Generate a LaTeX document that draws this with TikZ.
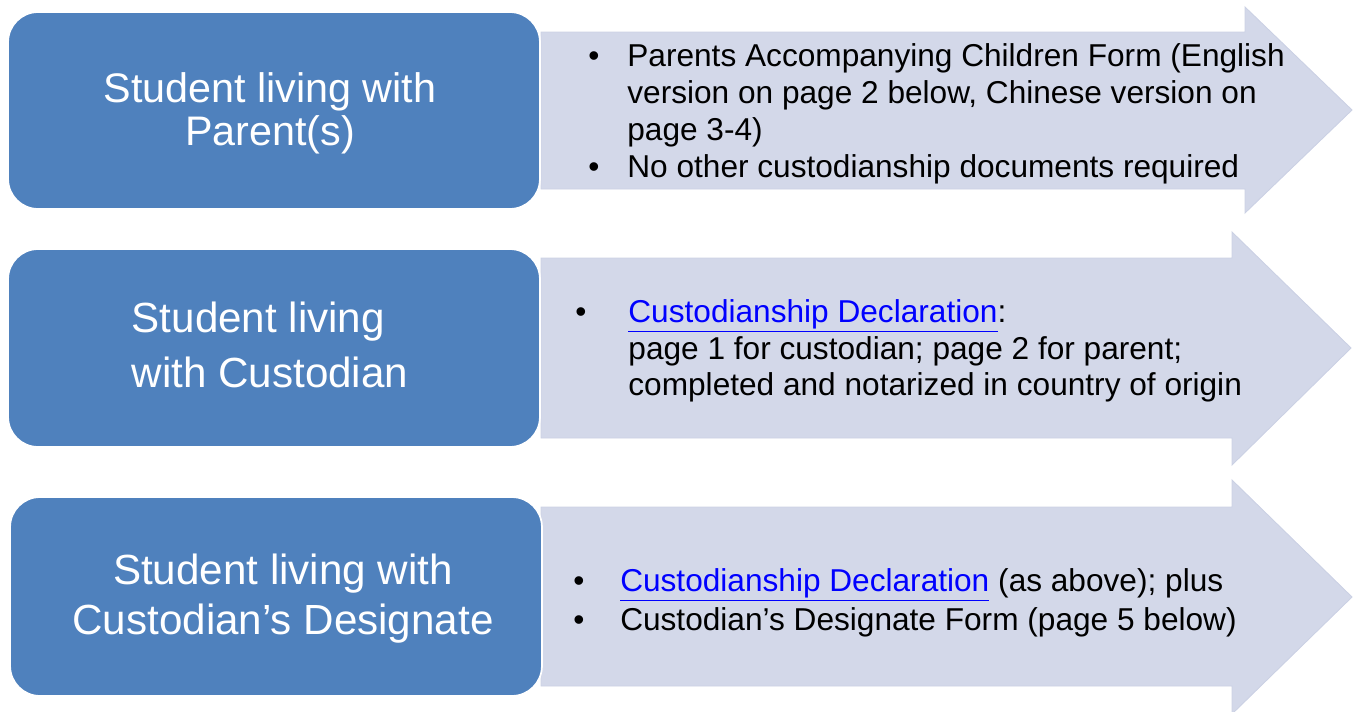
\documentclass[tikz,border=0pt]{standalone}
\usepackage{fontspec}
\setmainfont{Liberation Sans}
\definecolor{boxblue}{HTML}{4F81BD}
\definecolor{arrowfill}{HTML}{D3D8E9}
\definecolor{arrowedge}{HTML}{CBD1E4}
\definecolor{linkblue}{HTML}{0000FF}
\newcommand{\doclink}[1]{\textcolor{linkblue}{\underline{#1}}}
\newcommand{\bul}[1]{\makebox[#1][l]{\textbullet}}
\tikzset{
    stage/.style = {draw=white, line width=1pt, fill=boxblue, rounded corners=0.6cm,
        minimum width=10.64cm},
    stagetext/.style = {text=white, align=center},
    docs/.style = {anchor=west, align=left, inner sep=0pt},
    bigarrow/.style = {fill=arrowfill, draw=arrowedge, line width=0.5pt}
}

\begin{document}
\begin{tikzpicture}[x=0.02cm, y=-0.02cm]
    \clip (0,0) rectangle (1356,711);

    \draw[bigarrow] (541,32) -- (1245,32) -- (1245,7) -- (1352,110)
        -- (1245,213) -- (1245,189) -- (541,189) -- cycle;
    \draw[bigarrow] (541,258) -- (1232,258) -- (1232,232) -- (1351,348)
        -- (1232,465) -- (1232,438) -- (541,438) -- cycle;
    \draw[bigarrow] (541,507) -- (1232,507) -- (1232,480) -- (1352,597)
        -- (1232,714) -- (1232,686) -- (541,686) -- cycle;

    \node[stage, minimum height=3.94cm] (parents) at (274,110.5) {};
    \node[stagetext, font=\fontsize{23.5}{24.5}\selectfont] (parentslabel)
        at ([xshift=-0.08cm, yshift=-0.06cm]parents.center) {Student living with\\Parent(s)};
    \node[stage, minimum height=3.96cm] (custodian) at (274,348) {};
    \node[stagetext, align=left, font=\fontsize{24}{31}\selectfont] (custodianlabel)
        at ([xshift=-0.08cm, yshift=0.06cm]custodian.center) {Student living\\with Custodian};
    \node[stage, minimum height=3.98cm] (designate) at (276,596.5) {};
    \node[stagetext, font=\fontsize{24}{28.5}\selectfont] (designatelabel)
        at ([xshift=0.14cm, yshift=-0.04cm]designate.center) {Student living with\\Custodian’s Designate};

    \node[docs, font=\fontsize{18}{21}\selectfont] (parentsdocs) at (588,114)
        {\bul{22.2pt}Parents Accompanying Children Form (English\\
         \hspace*{22.2pt}version on page 2 below, Chinese version on\\
         \hspace*{22.2pt}page 3-4)\\
         \bul{22.2pt}No other custodianship documents required};
    \node[docs, font=\fontsize{18}{20.8}\selectfont] (custodiandocs) at (575,351)
        {\bul{30.2pt}\doclink{Custodianship Declaration}:\\
         \hspace*{30.2pt}page 1 for custodian; page 2 for parent;\\
         \hspace*{30.2pt}completed and notarized in country of origin};
    \node[docs, font=\fontsize{18}{22.2}\selectfont] (designatedocs) at (573,603)
        {\bul{26.7pt}\doclink{Custodianship Declaration} (as above); plus\\
         \bul{26.7pt}Custodian’s Designate Form (page 5 below)};
\end{tikzpicture}
\end{document}
